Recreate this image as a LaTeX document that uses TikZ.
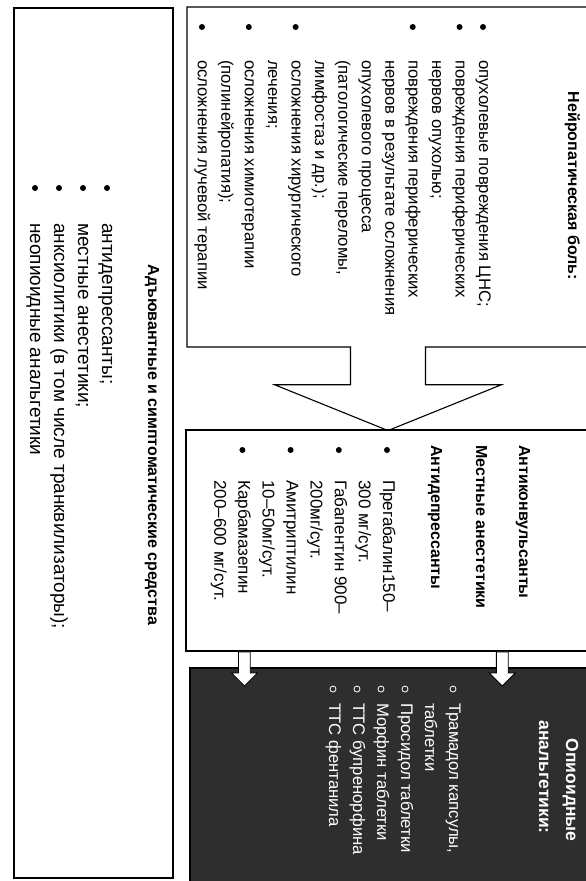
\documentclass[tikz,border=0pt]{standalone}
\usepackage{fontspec}
\setmainfont{Liberation Sans}
\usetikzlibrary{shapes.arrows,calc,positioning}

\tikzset{
  panel/.style={draw, line width=1.1pt, fill=white, inner sep=0pt},
  darkpanel/.style={draw, line width=1.1pt, fill=black!82, inner sep=0pt},
  body/.style={anchor=base west, inner sep=0pt, font=\fontsize{16.7}{20}\selectfont},
  head/.style={anchor=base, inner sep=0pt, font=\bfseries\fontsize{16}{20}\selectfont},
  blockarrow/.style={single arrow, draw, fill=white, line width=.8pt, minimum height=34pt,
    single arrow head extend=7pt, inner sep=5.5pt, anchor=tail}
}

\begin{document}
\begin{tikzpicture}[x=1pt,y=1pt]
\useasboundingbox (0,0) rectangle (586,-881);
\begin{scope}[rotate=-90,transform shape]
  % boxes
  \node[arrow box, draw, line width=1.1pt, inner sep=0pt, minimum width=340pt, minimum height=402pt,
    arrow box arrows={east:83pt from border}, arrow box shaft width=75pt,
    arrow box head extend=76pt, arrow box head indent=0pt, arrow box tip angle=136] (neuro) at (177,388) {};
  \node[panel, minimum width=221pt, minimum height=403pt] (anti) at (540.5,387.5) {};
  \node[darkpanel, minimum width=227pt, minimum height=399pt] (opio) at (781.5,389.5) {};
  \node[panel, minimum width=870pt, minimum height=159pt] (adju) at (443,93.5) {};

  % neuropathic pain
  \node[head] (neurot) at (186,568) {Нейропатическая боль:};
  \foreach \t [count=\i from 0] in {опухолевые повреждения ЦНС;, повреждения периферических,
      нервов опухолью;, повреждения периферических, нервов в результате осложнения,
      опухолевого процесса, {(патологические переломы,}, {лимфостаз и др.);},
      осложнения хирургического, лечения;, осложнения химиотерапии, {(полинейропатия);},
      осложнения лучевой терапии}
    \node[body] (neuro\i) at (60,479-23.42*\i) {\t};
  \foreach \i in {0,1,3,8,10,12}
    \fill (27,483-23.42*\i) circle (3pt);

  % anticonvulsants
  \node[head, anchor=base west] (antit) at (445,519) {Антиконвульсанты};
  \node[head, anchor=base west] (anest) at (445,476) {Местные анестетики};
  \node[head, anchor=base west] (depr) at (445,431) {Антидепрессанты};
  \foreach \t [count=\i from 0] in {Прегабалин150–, 300 мг/сут., Габапентин 900–, 200мг/сут.,
      Амитриптилин, 10–50мг/сут., Карбамазепин, 200–600 мг/сут.}
    \node[body, font=\fontsize{17}{20}\selectfont] (anti\i) at (480,383-24.1*\i) {\t};
  \foreach \i in {0,2,4,6}
    \fill (450,387-24.1*\i) circle (3pt);

  % opioids
  \node[head, text=white, font=\bfseries\fontsize{17.5}{20}\selectfont] (opiot) at (790,566) {Опиоидные};
  \node[head, text=white, font=\bfseries\fontsize{17.5}{20}\selectfont] (opiot2) at (777,539) {анальгетики:};
  \foreach \t [count=\i from 0] in {{Трамадол капсулы,}, таблетки, Просидол таблетки,
      Морфин таблетки, ТТС бупренорфина, ТТС фентанила}
    \node[body, text=white] (opio\i) at (703,449-24*\i) {\t};
  \foreach \i in {0,2,3,4,5}
    \draw[white, line width=.8pt] (689,453-24*\i) circle (3pt);

  % adjuvants
  \node[head] (adjut) at (445,148) {Адъювантные и симптоматические средства};
  \foreach \t [count=\i from 0] in {антидепрессанты;, местные анестетики;,
      {анксиолитики (в том числе транквилизаторы);}, неопиоидные анальгетики}
    \node[body, font=\fontsize{19}{20}\selectfont] (adju\i) at (223,102-24*\i) {\t};
  \foreach \i in {0,...,3}
    \fill (188,107-24*\i) circle (3pt);

  % links
  \node[blockarrow] (linkA) at ($(anti.south east)!.146!(anti.north east)$) {};
  \node[blockarrow] (linkB) at ($(anti.south east)!.784!(anti.north east)$) {};
\end{scope}
\end{tikzpicture}
\end{document}
